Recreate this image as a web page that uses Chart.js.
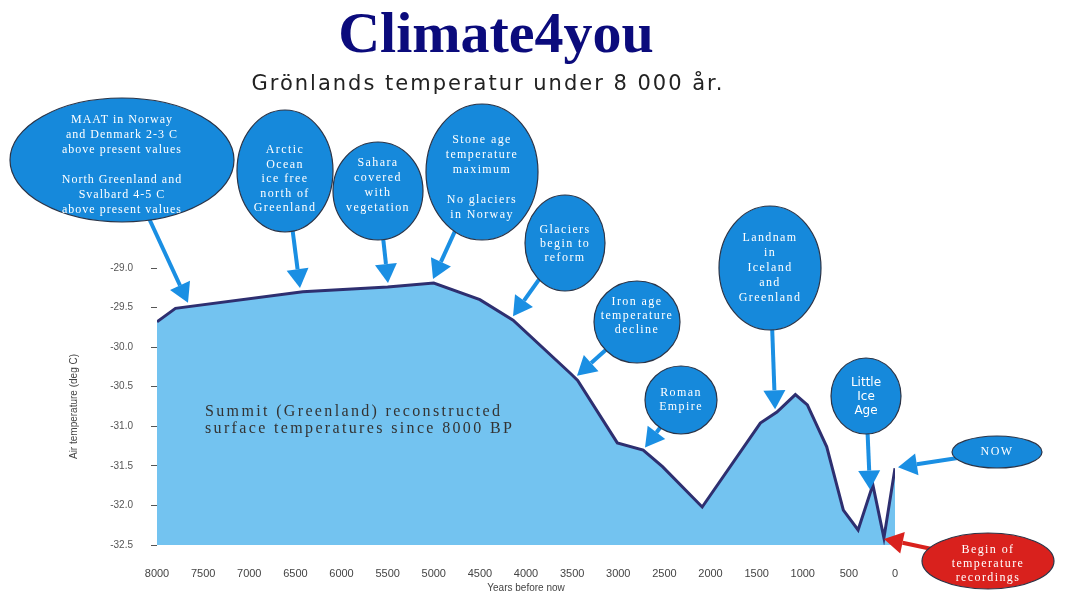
<!DOCTYPE html>
<html>
<head>
<meta charset="utf-8">
<script src="https://cdn.jsdelivr.net/npm/chart.js@4.4.1/dist/chart.umd.min.js"></script>
<style>
    html, body { margin: 0; padding: 0; background: #fff; }
    #wrap { width: 1071px; height: 594px; }
</style>
</head>
<body>
<div id="wrap"><canvas id="chart" width="1071" height="594"></canvas></div>
<script>
// Summit (Greenland) reconstructed surface temperature
const years = [8000, 7800, 6420, 5500, 5000, 4500, 4140, 3520, 3440, 3010, 2730, 2520, 2090, 1460, 1280, 1080, 950, 740, 560, 400, 240, 120, 0];
const temps = [-29.68, -29.51, -29.30, -29.24, -29.19, -29.40, -29.66, -30.33, -30.42, -31.21, -31.30, -31.51, -32.02, -30.96, -30.82, -30.60, -30.73, -31.26, -32.06, -32.31, -31.74, -32.41, -31.53];

const yearTicks = [8000, 7500, 7000, 6500, 6000, 5500, 5000, 4500, 4000, 3500, 3000, 2500, 2000, 1500, 1000, 500, 0];
const tempTicks = [-32.5, -32.0, -31.5, -31.0, -30.5, -30.0, -29.5, -29.0];

const titleText = 'Climate4you';
const subtitleText = 'Grönlands temperatur under 8 000 år.';
const noteLines = ['Summit (Greenland) reconstructed', 'surface temperatures since 8000 BP'];

// callout bubbles: text + the year on the curve the arrow points at
const calloutText = [
    ['MAAT in Norway', 'and Denmark 2-3 C', 'above present values', '', 'North Greenland and', 'Svalbard 4-5 C', 'above present values'],
    ['Arctic', 'Ocean', 'ice free', 'north of', 'Greenland'],
    ['Sahara', 'covered', 'with', 'vegetation'],
    ['Stone age', 'temperature', 'maximum', '', 'No glaciers', 'in Norway'],
    ['Glaciers', 'begin to', 'reform'],
    ['Iron age', 'temperature', 'decline'],
    ['Roman', 'Empire'],
    ['Landnam', 'in', 'Iceland', 'and', 'Greenland'],
    ['Little', 'Ice', 'Age'],
    ['NOW'],
    ['Begin of', 'temperature', 'recordings']
];
const calloutYears = [7664, 6450, 5496, 5008, 4141, 3447, 2710, 1300, 271, 0, 120];

// bubble geometry (layout only)
const bubbles = [
    { cx: 122, cy: 160, rx: 112, ry: 62, lh: 15, dy: 5, size: 12, ls: 1 },
    { cx: 285, cy: 171, rx: 48, ry: 61, lh: 14.5, dy: 8, size: 12 },
    { cx: 378, cy: 191, rx: 45, ry: 49, lh: 15, dy: -6, size: 12 },
    { cx: 482, cy: 172, rx: 56, ry: 68, lh: 15, dy: 5, size: 12 },
    { cx: 565, cy: 243, rx: 40, ry: 48, lh: 14, dy: 1, size: 12 },
    { cx: 637, cy: 322, rx: 43, ry: 41, lh: 14, dy: -6, size: 12 },
    { cx: 681, cy: 400, rx: 36, ry: 34, lh: 14, dy: 0, size: 12 },
    { cx: 770, cy: 268, rx: 51, ry: 62, lh: 15, dy: 0, size: 12 },
    { cx: 866, cy: 396, rx: 35, ry: 38, lh: 14, dy: 1, size: 12, sans: true, ls: 0 },
    { cx: 997, cy: 452, rx: 45, ry: 16, lh: 14, dy: 0, size: 12, tipDx: 3, tipDy: -1 },
    { cx: 988, cy: 561, rx: 66, ry: 28, lh: 14, dy: 3, size: 12, red: true, tipDy: 1 }
];

const BLUE = '#1689db';
const ARROW_BLUE = '#1a8fe3';
const RED = '#d9211d';

function tempAt(year) {
    for (let i = 0; i < years.length - 1; i++) {
        const a = years[i], b = years[i + 1];
        if (year <= a && year >= b) {
            const t = (a - year) / (a - b);
            return temps[i] + t * (temps[i + 1] - temps[i]);
        }
    }
    return temps[temps.length - 1];
}

function drawArrow(ctx, x0, y0, x1, y1, color) {
    const ang = Math.atan2(y1 - y0, x1 - x0);
    const head = 19, half = 11;
    const bx = x1 - head * Math.cos(ang), by = y1 - head * Math.sin(ang);
    ctx.strokeStyle = color;
    ctx.fillStyle = color;
    ctx.lineWidth = 4;
    ctx.beginPath();
    ctx.moveTo(x0, y0);
    ctx.lineTo(bx, by);
    ctx.stroke();
    ctx.beginPath();
    ctx.moveTo(x1, y1);
    ctx.lineTo(bx + half * Math.sin(ang), by - half * Math.cos(ang));
    ctx.lineTo(bx - half * Math.sin(ang), by + half * Math.cos(ang));
    ctx.closePath();
    ctx.fill();
}

const decorations = {
    id: 'decorations',
    afterDraw(chart) {
        const ctx = chart.ctx;
        const xs = chart.scales.x, ys = chart.scales.y;
        ctx.save();

        // titles
        ctx.textAlign = 'center';
        ctx.textBaseline = 'alphabetic';
        ctx.fillStyle = '#0b0b7c';
        ctx.font = 'bold 58px "Liberation Serif", serif';
        ctx.fillText(titleText, 496, 52);
        ctx.fillStyle = '#222';
        ctx.font = '21px "DejaVu Sans", sans-serif';
        ctx.letterSpacing = '2px';
        ctx.fillText(subtitleText, 488, 90);

        // note inside the area
        ctx.textAlign = 'left';
        ctx.fillStyle = '#333';
        ctx.font = '16px "Liberation Serif", serif';
        ctx.letterSpacing = '2.35px';
        noteLines.forEach((t, i) => ctx.fillText(t, 205, 416 + i * 17));
        ctx.letterSpacing = '0px';

        // arrows first, bubbles on top
        bubbles.forEach((b, i) => {
            const yr = calloutYears[i];
            const tx = xs.getPixelForValue(yr) + (b.tipDx || 0);
            const ty = ys.getPixelForValue(tempAt(yr)) + (b.tipDy !== undefined ? b.tipDy : -4);
            drawArrow(ctx, b.cx, b.cy, tx, ty, b.red ? RED : ARROW_BLUE);
        });

        bubbles.forEach((b, i) => {
            ctx.beginPath();
            ctx.ellipse(b.cx, b.cy, b.rx, b.ry, 0, 0, Math.PI * 2);
            ctx.fillStyle = b.red ? RED : BLUE;
            ctx.fill();
            ctx.lineWidth = 1.2;
            ctx.strokeStyle = '#2b3447';
            ctx.stroke();

            const lines = calloutText[i];
            ctx.fillStyle = '#fff';
            ctx.textAlign = 'center';
            ctx.textBaseline = 'middle';
            ctx.font = b.size + 'px ' + (b.sans ? '"DejaVu Sans", sans-serif' : '"Liberation Serif", serif');
            ctx.letterSpacing = (b.ls !== undefined ? b.ls : 1.4) + 'px';
            const top = b.cy + b.dy - (lines.length - 1) * b.lh / 2;
            lines.forEach((t, k) => ctx.fillText(t, b.cx, top + k * b.lh));
        });
        ctx.letterSpacing = '0px';
        ctx.restore();
    }
};

new Chart(document.getElementById('chart'), {
    type: 'line',
    data: {
        datasets: [{
            label: 'Temperature',
            data: years.map((yr, i) => ({ x: yr, y: temps[i] })),
            borderColor: '#2e2f70',
            backgroundColor: '#73c3f0',
            borderWidth: 3,
            pointRadius: 0,
            tension: 0,
            fill: 'start'
        }]
    },
    options: {
        responsive: false,
        animation: false,
        layout: { padding: { top: 268, left: 68, right: 176, bottom: 0 } },
        plugins: {
            legend: { display: false },
            tooltip: { enabled: false }
        },
        scales: {
            x: {
                type: 'linear',
                reverse: true,
                min: 0,
                max: 8000,
                afterBuildTicks: (scale) => { scale.ticks = yearTicks.map(v => ({ value: v })); },
                afterFit: (scale) => { scale.height = 49; },
                grid: { display: false, drawTicks: false },
                border: { display: false },
                ticks: {
                    autoSkip: false,
                    maxRotation: 0,
                    padding: 22,
                    color: '#444',
                    font: { family: '"Liberation Sans", Arial, sans-serif', size: 11 },
                    callback: (v) => String(v)
                },
                title: {
                    display: true,
                    text: 'Years before now',
                    color: '#444',
                    padding: 0,
                    font: { family: '"Liberation Sans", Arial, sans-serif', size: 10 }
                }
            },
            y: {
                min: -32.5,
                max: -29.0,
                afterBuildTicks: (scale) => { scale.ticks = tempTicks.map(v => ({ value: v })); },
                afterFit: (scale) => { scale.width = 89; },
                grid: { drawOnChartArea: false, drawTicks: true, tickLength: 6, color: '#555' },
                border: { display: false },
                ticks: {
                    padding: 18,
                    color: '#555',
                    font: { family: '"Liberation Sans", Arial, sans-serif', size: 10 },
                    callback: (v) => Number(v).toFixed(1)
                },
                title: {
                    display: true,
                    text: 'Air temperature (deg C)',
                    color: '#444',
                    padding: 0,
                    font: { family: '"Liberation Sans", Arial, sans-serif', size: 10 }
                }
            }
        }
    },
    plugins: [decorations]
});
</script>
</body>
</html>
